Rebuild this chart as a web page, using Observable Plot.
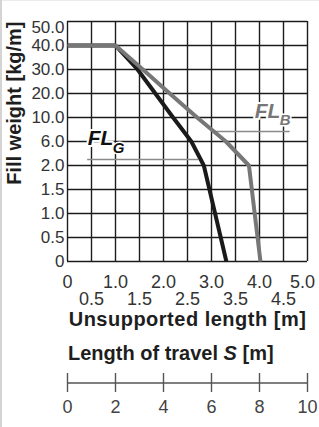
<!DOCTYPE html>
<html><head><meta charset="utf-8">
<script src="https://cdn.jsdelivr.net/npm/d3@7"></script>
<script src="https://cdn.jsdelivr.net/npm/@observablehq/plot@0.6"></script>
<style>
html,body{margin:0;padding:0;background:#fff;}
#wrap{position:relative;width:319px;height:427px;overflow:hidden;font-family:"Liberation Sans",Arial,sans-serif;}
#wrap svg{position:absolute;left:0;}
#bl{position:absolute;left:0;top:0;width:2px;height:427px;background:#d4d4d4;}
#bt{position:absolute;left:0;top:0;width:319px;height:1px;background:#ebebeb;}
#travel{position:absolute;left:68px;top:343px;font-weight:bold;font-size:20px;line-height:20px;color:#1e1e1e;white-space:nowrap;}
</style></head><body>
<div id="wrap"><div id="travel">Length of travel <i>S</i> [m]</div></div>
<script>
// Fill weight categories [kg/m] (y axis, top to bottom)
const weightLabels = ["50.0","40.0","30.0","20.0","10.0","6.0","2.0","1.5","1.0","0.5","0"];
// Unsupported length ticks [m]
const lengthMajor = [0, 1, 2, 3, 4, 5];
const lengthMinor = [0.5, 1.5, 2.5, 3.5, 4.5];
// Length of travel S ticks [m]
const travelTicks = [0, 2, 4, 6, 8, 10];

// FL_G (black) curve
const flgLength = [0, 1.0, 1.46, 1.83, 2.2, 2.58, 2.84, 3.31];
const flgWeight = ["40.0","40.0","30.0","20.0","10.0","6.0","2.0","0"];
// FL_B (grey) curve
const flbLength = [0, 1.0, 1.57, 2.13, 2.70, 3.30, 3.78, 4.02];
const flbWeight = ["40.0","40.0","30.0","20.0","10.0","6.0","2.0","0"];

const FONT = "'Liberation Sans', Arial, sans-serif";
const fmt = d => d === 0 ? "0" : d.toFixed(1);
const gridColor = "#1c1c1c";
const halo = {stroke: "white", strokeWidth: 4, paintOrder: "stroke"};
const at = v => () => v;

const p1 = Plot.plot({
  width: 319, height: 340,
  marginLeft: 67, marginRight: 12, marginTop: 21, marginBottom: 79,
  style: {fontFamily: FONT, fontSize: "17px", color: "#333", background: "transparent", overflow: "visible"},
  x: {domain: [0, 5]},
  y: {type: "point", domain: weightLabels, padding: 0},
  marks: [
    Plot.gridX(lengthMajor.concat(lengthMinor), {stroke: gridColor, strokeOpacity: 1, strokeWidth: 1.4}),
    Plot.gridY(weightLabels, {stroke: gridColor, strokeOpacity: 1, strokeWidth: 1.4}),
    // leader lines
    Plot.ruleY(["2.0"], {x1: 0.42, x2: 2.73, dy: -6, stroke: "#8a8a8a", strokeWidth: 1.6}),
    Plot.ruleY(["6.0"], {x1: 3.02, x2: 4.64, dy: -10, stroke: "#8a8a8a", strokeWidth: 1.6}),
    // curves
    Plot.line(flgLength, {x: flgLength, y: flgWeight, stroke: "#1a1a1a", strokeWidth: 4, strokeLinecap: "butt", strokeLinejoin: "miter"}),
    Plot.line(flbLength, {x: flbLength, y: flbWeight, stroke: "#777", strokeWidth: 4, strokeLinecap: "butt", strokeLinejoin: "miter"}),
    // series labels
    Plot.text(["FL"], {x: at(0.42), y: at("6.0"), dy: 3, textAnchor: "start", lineAnchor: "bottom", fontSize: 21, fontWeight: "bold", fontStyle: "italic", fill: "#111", ...halo}),
    Plot.text(["G"], {x: at(0.42), y: at("6.0"), dx: 25, dy: 11, textAnchor: "start", lineAnchor: "bottom", fontSize: 15, fontWeight: "bold", fontStyle: "italic", fill: "#111", ...halo, strokeWidth: 3}),
    Plot.text(["FL"], {x: at(3.9), y: at("10.0"), dy: 0, textAnchor: "start", lineAnchor: "bottom", fontSize: 21, fontWeight: "bold", fontStyle: "italic", fill: "#777", ...halo}),
    Plot.text(["B"], {x: at(3.9), y: at("10.0"), dx: 25, dy: 7, textAnchor: "start", lineAnchor: "bottom", fontSize: 15, fontWeight: "bold", fontStyle: "italic", fill: "#777", ...halo, strokeWidth: 3}),
    // axes
    Plot.axisY(weightLabels.filter(d => d !== "50.0"), {tickSize: 0, tickPadding: 3, label: null, fontSize: 17}),
    Plot.axisY(["50.0"], {tickSize: 0, tickPadding: 3, dy: 6, label: null, fontSize: 17}),
    Plot.axisX(lengthMajor.filter(d => d !== 5), {tickSize: 0, tickPadding: 14, tickFormat: fmt, label: null, fontSize: 18}),
    Plot.axisX([5], {tickSize: 0, tickPadding: 14, tickFormat: fmt, dx: -5, label: null, fontSize: 18}),
    Plot.axisX(lengthMinor, {tickSize: 0, tickPadding: 31, tickFormat: fmt, label: null, fontSize: 18}),
    // axis titles
    Plot.text(["Fill weight [kg/m]"], {frameAnchor: "top-left", dx: -53, rotate: -90, textAnchor: "end", lineAnchor: "middle", fontSize: 20, fontWeight: "bold", fill: "#1e1e1e"}),
    Plot.text(["Unsupported length [m]"], {frameAnchor: "bottom", dy: 64, lineAnchor: "bottom", fontSize: 20, fontWeight: "bold", fill: "#1e1e1e", className: "xlabel"})
  ]
});
p1.style.top = "0px";
d3.select(p1).selectAll(".xlabel text").style("letter-spacing", "0.5px");

const p2 = Plot.plot({
  width: 319, height: 87,
  marginLeft: 67, marginRight: 12, marginTop: 33, marginBottom: 35,
  style: {fontFamily: FONT, fontSize: "18px", color: "#444", background: "transparent", overflow: "visible"},
  x: {domain: [0, 10]},
  y: {domain: [-1, 1], axis: null},
  marks: [
    Plot.ruleY([0], {stroke: "#555", strokeWidth: 1.4}),
    Plot.ruleX(travelTicks, {y1: -1, y2: 1, stroke: "#555", strokeWidth: 1.4}),
    Plot.axisX(travelTicks, {tickSize: 0, tickPadding: 8, label: null, fontSize: 18})
  ]
});
p2.style.top = "340px";

const wrap = document.getElementById("wrap");
wrap.prepend(p2);
wrap.prepend(p1);
const bt = document.createElement("div"); bt.id = "bt"; wrap.appendChild(bt);
const bl = document.createElement("div"); bl.id = "bl"; wrap.appendChild(bl);
</script>
</body></html>
